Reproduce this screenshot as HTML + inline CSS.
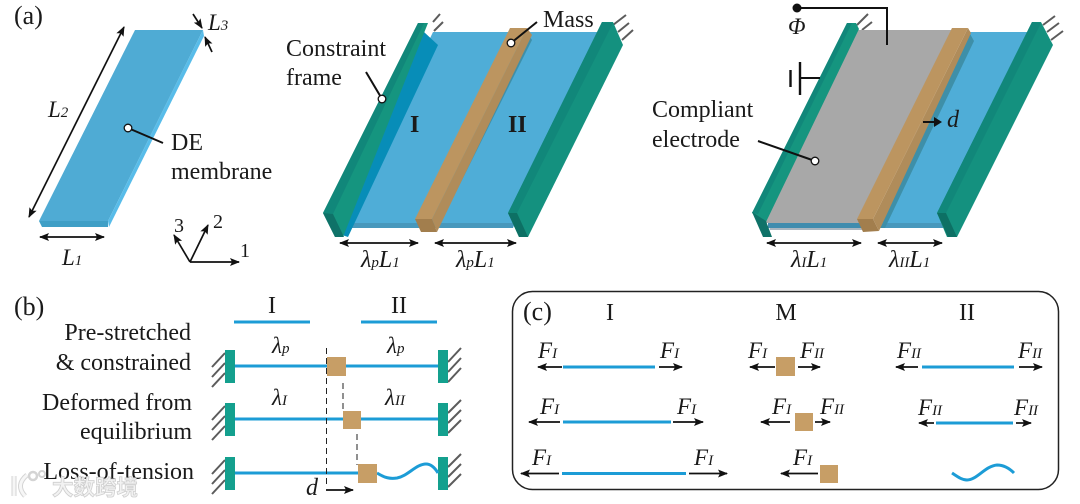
<!DOCTYPE html>
<html><head><meta charset="utf-8">
<style>
html,body{margin:0;padding:0;background:#fff;width:1080px;height:504px;overflow:hidden}
svg{display:block}
text{font-family:"Liberation Serif","Noto Serif CJK SC",serif;font-size:24px;fill:#1a1a1a}
.i{font-style:italic;font-size:23px}
.l{font-style:italic;font-size:24px}
.f{font-style:italic;font-size:23px}
.s{font-size:15px;font-style:italic}
.a{stroke:#111;stroke-width:1.7;fill:none}
.t{stroke:#5c5c5c;stroke-width:2;fill:none}
.b{stroke:#1c9cd6;stroke-width:3;fill:none}
.p{stroke:#111;stroke-width:2;fill:none}
</style></head><body>
<svg width="1080" height="504" viewBox="0 0 1080 504" xmlns="http://www.w3.org/2000/svg">
<defs>
<marker id="m" viewBox="0 0 10 8" refX="9" refY="4" markerWidth="10" markerHeight="8" orient="auto-start-reverse" markerUnits="userSpaceOnUse"><path d="M0 0L10 4L0 8L2 4Z" fill="#111"/></marker>
</defs>

<!-- Panel a1 -->
<text x="14" y="24" style="font-size:26px">(a)</text>
<polygon points="135,30 203,30 108,221 39,221" fill="#4FABD4"/>
<polygon points="203,30 204,36 109,227 108,221" fill="#58BCE9"/>
<polygon points="39,221 108,221 108,227 42,227" fill="#3F9FC6"/>
<line x1="124" y1="27" x2="29" y2="217" class="a" marker-start="url(#m)" marker-end="url(#m)"/>
<line x1="40" y1="237" x2="104" y2="237" class="a" marker-start="url(#m)" marker-end="url(#m)"/>
<line x1="193" y1="14" x2="202" y2="28" class="a" marker-end="url(#m)"/>
<line x1="212" y1="52" x2="205" y2="37" class="a" marker-end="url(#m)"/>
<text x="208" y="30" class="i">L<tspan class="s">3</tspan></text>
<text x="48" y="117" class="i">L<tspan class="s">2</tspan></text>
<text x="62" y="265" class="i">L<tspan class="s">1</tspan></text>
<line x1="128" y1="128" x2="163" y2="143" stroke="#111" stroke-width="2"/>
<circle cx="128" cy="128" r="3.8" fill="#fff" stroke="#111" stroke-width="1.3"/>
<text x="171" y="150">DE</text>
<text x="171" y="179">membrane</text>
<line x1="190" y1="262" x2="239" y2="262" class="a" marker-end="url(#m)"/>
<line x1="190" y1="262" x2="208" y2="225" class="a" marker-end="url(#m)"/>
<line x1="190" y1="262" x2="174" y2="235" class="a" marker-end="url(#m)"/>
<text x="240" y="257" style="font-size:20px">1</text>
<text x="213" y="228" style="font-size:20px">2</text>
<text x="174" y="232" style="font-size:20px">3</text>

<!-- Panel a2 -->
<path class="t" d="M433 22L440 14M434 31L443 22M613 25L626 15M618 32L629 23M622 40L633 30"/>
<polygon points="433,32 600,32 513,228 340,228" fill="#4FADD7"/>
<polygon points="340,223 513,223 513,228 340,228" fill="#4798BC"/>
<polygon points="424,32 438,45 348,237 336,233" fill="#078DB8"/>
<polygon points="527,32 532,40 438,228 432,228" fill="#3E8FA8"/>
<polygon points="510,28 527,28 432,219 415,219" fill="#BC9560"/>
<polygon points="527,28 532,35 437,232 432,219" fill="#B08C5A"/>
<polygon points="415,219 432,219 437,232 421,232" fill="#A27E4D"/>
<polygon points="418,23 428,23 343,237 335,237 323,213" fill="#15957F"/>
<polygon points="418,23 424,23 333,214 323,213" fill="#11877A"/>
<polygon points="323,213 333,214 344,237 335,237" fill="#0F7268"/>
<polygon points="602,22 613,22 623,45 528,237 519,237 508,213" fill="#14917F"/>
<polygon points="602,22 613,23 517,213 508,213" fill="#11877A"/>
<polygon points="508,213 517,213 528,237 519,237" fill="#0D7064"/>
<line x1="340" y1="243" x2="418" y2="243" class="a" marker-start="url(#m)" marker-end="url(#m)"/>
<line x1="435" y1="243" x2="516" y2="243" class="a" marker-start="url(#m)" marker-end="url(#m)"/>
<text x="361" y="267" class="l">λ<tspan class="s">p</tspan>L<tspan class="s">1</tspan></text>
<text x="456" y="267" class="l">λ<tspan class="s">p</tspan>L<tspan class="s">1</tspan></text>
<text x="286" y="56">Constraint</text>
<text x="286" y="85">frame</text>
<line x1="366" y1="72" x2="382" y2="99" stroke="#111" stroke-width="2"/>
<circle cx="382" cy="99" r="3.8" fill="#fff" stroke="#111" stroke-width="1.3"/>
<text x="543" y="27">Mass</text>
<line x1="511" y1="43" x2="537" y2="22" stroke="#111" stroke-width="2"/>
<circle cx="511" cy="43" r="3.8" fill="#fff" stroke="#111" stroke-width="1.3"/>
<text x="410" y="132" style="font-weight:bold">I</text>
<text x="508" y="132" style="font-weight:bold">II</text>

<!-- Panel a3 -->
<path class="t" d="M857 25L868 14M862 30L872 22M1043 25L1055 16M1047 32L1059 23M1051 40L1063 31"/>
<polygon points="969,32 1028,32 943,228 878,228" fill="#4FADD7"/>
<polygon points="880,223 943,223 943,228 880,228" fill="#4798BC"/>
<polygon points="768,222 862,222 862,230 770,230" fill="#A9B6C0"/>
<polygon points="768,222 862,222 862,228 768,228" fill="#3F8CAE"/>
<polygon points="856,30 952,30 860,223 763,223" fill="#A8A8A8"/>
<polygon points="969,32 974,41 885,228 878,228" fill="#3E8FA8"/>
<polygon points="952,28 968,28 873,219 857,219" fill="#BC9560"/>
<polygon points="968,28 971,33 879,231 873,219" fill="#B08C5A"/>
<polygon points="857,219 873,219 879,231 863,232" fill="#A27E4D"/>
<polygon points="847,23 856,23 859,29 766,222 752,213" fill="#15957F"/>
<polygon points="847,23 852,23 758,214 752,213" fill="#11877A"/>
<polygon points="752,212 766,221 772,237 763,237" fill="#0F7268"/>
<polygon points="1032,22 1041,22 1053,45 957,237 947,237 937,213" fill="#14917F"/>
<polygon points="1032,22 1041,23 946,213 937,213" fill="#11877A"/>
<polygon points="937,213 946,213 957,237 948,237" fill="#0D7064"/>
<line x1="767" y1="243" x2="861" y2="243" class="a" marker-start="url(#m)" marker-end="url(#m)"/>
<line x1="878" y1="243" x2="942" y2="243" class="a" marker-start="url(#m)" marker-end="url(#m)"/>
<text x="791" y="267" class="l">λ<tspan class="s">I</tspan>L<tspan class="s">1</tspan></text>
<text x="889" y="267" class="l">λ<tspan class="s">II</tspan>L<tspan class="s">1</tspan></text>
<circle cx="797" cy="8" r="4.5" fill="#111"/>
<path d="M797 8H887V45" class="p"/>
<text x="788" y="34" class="i">Φ</text>
<line x1="800" y1="62" x2="800" y2="95" stroke="#111" stroke-width="2.4"/>
<line x1="790.5" y1="70" x2="790.5" y2="87" stroke="#111" stroke-width="2.4"/>
<line x1="800" y1="78" x2="820" y2="78" stroke="#111" stroke-width="2"/>
<text x="652" y="117">Compliant</text>
<text x="652" y="147">electrode</text>
<line x1="758" y1="141" x2="815" y2="161" stroke="#111" stroke-width="2"/>
<circle cx="815" cy="161" r="3.8" fill="#fff" stroke="#111" stroke-width="1.3"/>
<path d="M923 122H936" stroke="#111" stroke-width="2"/>
<path d="M934 117L942 122L934 127Z" fill="#111"/>
<text x="947" y="127" class="l">d</text>

<!-- Panel b -->
<text x="14" y="315" style="font-size:26px">(b)</text>
<text x="272" y="313" text-anchor="middle">I</text>
<text x="399" y="313" text-anchor="middle">II</text>
<line x1="234" y1="322" x2="310" y2="322" class="b"/>
<line x1="361" y1="322" x2="437" y2="322" class="b"/>
<text x="191" y="340" text-anchor="end">Pre-stretched</text>
<text x="191" y="370" text-anchor="end">&amp; constrained</text>
<text x="192" y="410" text-anchor="end">Deformed from</text>
<text x="192" y="439" text-anchor="end">equilibrium</text>
<text x="194" y="479" text-anchor="end">Loss-of-tension</text>
<text x="272" y="353" class="i">λ<tspan class="s">p</tspan></text>
<text x="387" y="353" class="i">λ<tspan class="s">p</tspan></text>
<text x="272" y="405" class="i">λ<tspan class="s">I</tspan></text>
<text x="385" y="405" class="i">λ<tspan class="s">II</tspan></text>
<g class="t">
<path d="M212 367L225 353M212 377L225 363M212 387L225 373"/>
<path d="M212 420L225 406M212 430L225 416M212 440L225 426"/>
<path d="M212 474L225 460M212 484L225 470M212 494L225 480"/>
<path d="M448 362L461 348M448 372L461 358M448 382L461 368"/>
<path d="M448 413L461 400M448 423L461 410M448 433L461 420"/>
<path d="M448 467L461 454M448 477L461 464M448 487L461 474"/>
</g>
<g fill="#14A08E">
<rect x="225" y="350" width="10" height="33"/><rect x="438" y="350" width="10" height="33"/>
<rect x="225" y="403" width="10" height="33"/><rect x="438" y="403" width="10" height="33"/>
<rect x="225" y="457" width="10" height="33"/><rect x="438" y="457" width="10" height="33"/>
</g>
<line x1="235" y1="366" x2="438" y2="366" class="b"/>
<line x1="235" y1="419" x2="438" y2="419" class="b"/>
<line x1="235" y1="473" x2="358" y2="473" class="b"/>
<path d="M377 473C385 478 390 479 397 478C408 476 416 464 426 464C431 464 435 468 438 473" class="b"/>
<g stroke="#222" stroke-width="1" stroke-dasharray="6 4" fill="none">
<line x1="326.5" y1="348" x2="326.5" y2="487"/>
<line x1="343" y1="383" x2="343" y2="411"/>
<line x1="357" y1="434" x2="357" y2="465"/>
</g>
<g fill="#C79E66">
<rect x="327" y="357" width="19" height="19"/>
<rect x="343" y="411" width="18" height="18"/>
<rect x="358" y="464" width="19" height="19"/>
</g>
<text x="306" y="495" class="l">d</text>
<line x1="326" y1="490" x2="353" y2="490" class="a" marker-end="url(#m)"/>

<!-- Panel c -->
<rect x="512.5" y="291.5" width="546" height="198" rx="20" ry="20" fill="none" stroke="#222" stroke-width="1.5"/>
<text x="523" y="320" style="font-size:26px">(c)</text>
<text x="610" y="320" text-anchor="middle">I</text>
<text x="786" y="320" text-anchor="middle">M</text>
<text x="967" y="320" text-anchor="middle">II</text>
<g class="b">
<line x1="563" y1="367" x2="655" y2="367"/>
<line x1="922" y1="367" x2="1014" y2="367"/>
<line x1="563" y1="422" x2="671" y2="422"/>
<line x1="936" y1="423" x2="1013" y2="423"/>
<line x1="562" y1="473.5" x2="686" y2="473.5"/>
<path d="M952 473C958 477 962 480 967 480C977 480 985 466 997 465C1004 465 1010 469 1014 473"/>
</g>
<g fill="#C79E66">
<rect x="776" y="357" width="19" height="19"/>
<rect x="795" y="413" width="18" height="18"/>
<rect x="820" y="465" width="18" height="18"/>
</g>
<g class="a">
<line x1="562" y1="367" x2="538" y2="367" marker-end="url(#m)"/>
<line x1="659" y1="367" x2="682" y2="367" marker-end="url(#m)"/>
<line x1="775" y1="367" x2="750" y2="367" marker-end="url(#m)"/>
<line x1="798" y1="367" x2="820" y2="367" marker-end="url(#m)"/>
<line x1="918" y1="367" x2="896" y2="367" marker-end="url(#m)"/>
<line x1="1019" y1="367" x2="1042" y2="367" marker-end="url(#m)"/>
<line x1="560" y1="422" x2="529" y2="422" marker-end="url(#m)"/>
<line x1="673" y1="422" x2="703" y2="422" marker-end="url(#m)"/>
<line x1="790" y1="422" x2="761" y2="422" marker-end="url(#m)"/>
<line x1="815" y1="422" x2="830" y2="422" marker-end="url(#m)"/>
<line x1="934" y1="423" x2="919" y2="423" marker-end="url(#m)"/>
<line x1="1016" y1="423" x2="1031" y2="423" marker-end="url(#m)"/>
<line x1="559" y1="473.5" x2="521" y2="473.5" marker-end="url(#m)"/>
<line x1="689" y1="473.5" x2="727" y2="473.5" marker-end="url(#m)"/>
<line x1="818" y1="473.5" x2="781" y2="473.5" marker-end="url(#m)"/>
</g>
<text x="538" y="358" class="f">F<tspan class="s">I</tspan></text>
<text x="660" y="358" class="f">F<tspan class="s">I</tspan></text>
<text x="748" y="358" class="f">F<tspan class="s">I</tspan></text>
<text x="800" y="358" class="f">F<tspan class="s">II</tspan></text>
<text x="897" y="358" class="f">F<tspan class="s">II</tspan></text>
<text x="1018" y="358" class="f">F<tspan class="s">II</tspan></text>
<text x="540" y="414" class="f">F<tspan class="s">I</tspan></text>
<text x="677" y="414" class="f">F<tspan class="s">I</tspan></text>
<text x="772" y="414" class="f">F<tspan class="s">I</tspan></text>
<text x="820" y="414" class="f">F<tspan class="s">II</tspan></text>
<text x="918" y="415" class="f">F<tspan class="s">II</tspan></text>
<text x="1014" y="415" class="f">F<tspan class="s">II</tspan></text>
<text x="532" y="465" class="f">F<tspan class="s">I</tspan></text>
<text x="694" y="465" class="f">F<tspan class="s">I</tspan></text>
<text x="793" y="465" class="f">F<tspan class="s">I</tspan></text>

<!-- watermark -->
<g>
<path d="M14 476V496M27 475Q15 485 25 496" stroke="#d4d4d4" stroke-width="5" fill="none"/>
<path d="M14 476V496M27 475Q15 485 25 496" stroke="#f6f6f6" stroke-width="3" fill="none"/>
<circle cx="33" cy="476" r="4" fill="#fff" stroke="#d4d4d4" stroke-width="2.5"/>
<circle cx="42" cy="474" r="3" fill="#fff" stroke="#d4d4d4" stroke-width="2"/>
<text x="52" y="495" style="font-size:21.5px;fill:#f2f2f2;stroke:#cfcfcf;stroke-width:.8px;font-family:'Noto Sans CJK SC',sans-serif;font-weight:bold">大数跨境</text>
</g>
</svg>
</body></html>
